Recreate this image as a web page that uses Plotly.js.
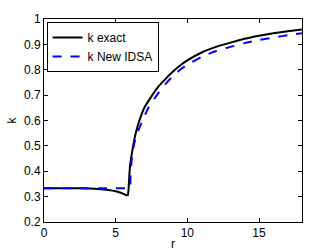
<!DOCTYPE html>
<html>
<head>
<meta charset="utf-8">
<script src="https://cdn.plot.ly/plotly-3.0.1.min.js"></script>
<style>html,body{margin:0;padding:0;background:#fff;}#chart{width:334px;height:251px;}</style>
</head>
<body>
<div id="chart"></div>
<script>
const rExact = [0,1,2,3,3.5,4,4.5,5,5.3,5.5,5.7,5.8,5.85,5.9,5.95,6.0,6.1,6.25,6.4,6.6,7,7.5,8,8.5,9,9.5,10,11,12,13,14,15,16,17,18];
const kExact = [0.333,0.333,0.333,0.332,0.331,0.329,0.326,0.321,0.316,0.312,0.307,0.305,0.306,0.33,0.38,0.42,0.46,0.51,0.55,0.59,0.65,0.695,0.735,0.765,0.793,0.817,0.837,0.868,0.89,0.907,0.922,0.934,0.944,0.952,0.959];
const rIDSA = [0,1,2,3,4,5,5.5,6.0,6.03,6.08,6.15,6.3,6.5,6.8,7.3,8,8.5,9,9.5,10,11,12,13,14,15,16,17,18];
const kIDSA = [0.333,0.333,0.333,0.333,0.333,0.333,0.333,0.333,0.37,0.42,0.46,0.51,0.55,0.59,0.652,0.71,0.745,0.775,0.80,0.82,0.851,0.874,0.89,0.905,0.917,0.927,0.936,0.944];
const xTicks = [0,5,10,15];
const yTicks = [0.2,0.3,0.4,0.5,0.6,0.7,0.8,0.9,1];
const yTickText = ['0.2','0.3','0.4','0.5','0.6','0.7','0.8','0.9','1'];

const font = {family: 'Liberation Sans, Arial, sans-serif', size: 12, color: '#000'};
const traces = [
  {x: rExact, y: kExact, mode: 'lines', name: 'k exact', line: {color: '#000', width: 2, shape: 'spline', smoothing: 0.5}},
  {x: rIDSA, y: kIDSA, mode: 'lines', name: 'k New IDSA', line: {color: '#0000ff', width: 2, dash: 'dash', shape: 'spline', smoothing: 0.5}}
];
const axisCommon = {showgrid: false, zeroline: false, showline: true, mirror: 'ticks', linecolor: '#000', linewidth: 1, ticks: 'inside', ticklen: 4, tickcolor: '#000', tickfont: font};
const layout = {
  width: 334, height: 251,
  margin: {l: 44, r: 32, t: 19, b: 29},
  paper_bgcolor: '#fff', plot_bgcolor: '#fff',
  font: font,
  showlegend: true,
  legend: {x: 0.01, y: 0.985, xanchor: 'left', yanchor: 'top', bordercolor: '#000', borderwidth: 1, bgcolor: '#fff', font: {family: font.family, size: 12, color: '#000'}, tracegroupgap: 0},
  xaxis: Object.assign({}, axisCommon, {range: [0, 18], tickvals: xTicks, title: {text: 'r', font: {family: font.family, size: 12}, standoff: 2}}),
  yaxis: Object.assign({}, axisCommon, {range: [0.2, 1], tickvals: yTicks, ticktext: yTickText, title: {text: 'k', font: {family: font.family, size: 12}, standoff: 4}})
};
Plotly.newPlot('chart', traces, layout, {displayModeBar: false, staticPlot: true});
</script>
</body>
</html>
